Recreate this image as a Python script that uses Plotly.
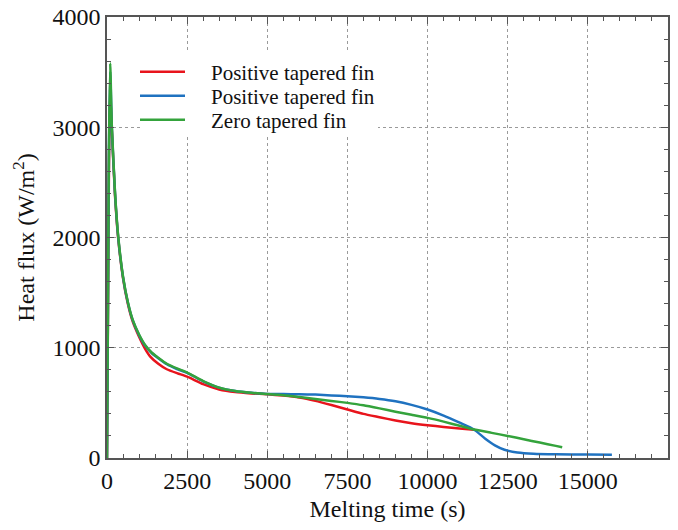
import plotly.graph_objects as go

# ---- data ----
t_red = [0, 30, 60, 95, 150, 250, 350, 500, 650, 800, 1000, 1180, 1350, 1600, 1865, 2200, 2500,
         3000, 3500, 4000, 4500, 5000, 5500, 6000, 6500, 7000, 7500, 8000, 8500, 9000, 9500,
         10000, 10500, 11000, 11450]
q_red = [0, 1300, 2600, 3340, 2980, 2380, 1990, 1630, 1400, 1240, 1100, 995, 920, 855, 805, 768, 738,
         670, 622, 598, 586, 578, 566, 548, 518, 480, 440, 400, 370, 340, 315,
         297, 282, 268, 256]

t_blue = [0, 30, 60, 100, 150, 250, 350, 500, 650, 800, 1000, 1200, 1400, 1600, 1865, 2200, 2500,
          3000, 3500, 4000, 4500, 5000, 5500, 6000, 6500, 7000, 7500, 8000, 8500, 9000, 9500,
          10000, 10500, 11000, 11450, 11800, 12100, 12400, 12800, 13300, 14000, 15000, 15750]
q_blue = [0, 1350, 2750, 3505, 3000, 2400, 2000, 1640, 1410, 1250, 1115, 1015, 950, 905, 850, 805, 772,
          696, 638, 607, 591, 581, 580, 578, 575, 568, 560, 550, 536, 515, 482,
          440, 385, 320, 258, 175, 115, 75, 50, 38, 33, 31, 30]

t_green = [0, 30, 60, 100, 150, 250, 350, 500, 650, 800, 1000, 1200, 1400, 1600, 1865, 2200, 2500,
           3000, 3500, 4000, 4500, 5000, 5500, 6000, 6500, 7000, 7500, 8000, 8500, 9000, 9500,
           10000, 10500, 11000, 11450, 12000, 12500, 13000, 13500, 14000, 14200]
q_green = [0, 1400, 2800, 3580, 3020, 2410, 2010, 1645, 1415, 1255, 1120, 1020, 955, 910, 855, 810, 775,
           698, 638, 607, 591, 581, 570, 553, 535, 518, 500, 478, 450, 420, 392,
           364, 330, 292, 258, 228, 200, 170, 140, 110, 98]

series_names = ["Positive tapered fin", "Positive tapered fin", "Zero tapered fin"]
x_ticks = [0, 2500, 5000, 7500, 10000, 12500, 15000]
y_ticks = [0, 1000, 2000, 3000, 4000]
x_range = [0, 17500]
y_range = [0, 4000]

colors = ["#e8141c", "#1f72c0", "#34a33c"]
legend_ids = ["legend", "legend2", "legend3"]

fig = go.Figure()
for (tx, qy, name, c, lg) in [(t_red, q_red, series_names[0], colors[0], legend_ids[0]),
                              (t_blue, q_blue, series_names[1], colors[1], legend_ids[1]),
                              (t_green, q_green, series_names[2], colors[2], legend_ids[2])]:
    fig.add_trace(go.Scatter(x=tx, y=qy, mode="lines", legend=lg,
                             name="\u00a0\u00a0\u00a0\u00a0" + name,
                             line=dict(color=c, width=2.5, shape="spline", smoothing=0.5)))

font_family = "Liberation Serif"
axis_common = dict(
    showline=True, linecolor="#555555", linewidth=1.5, mirror="allticks",
    ticks="inside", ticklen=7, tickwidth=1.2, tickcolor="#555555",
    showgrid=True, gridcolor="#9a9a9a", griddash="dot", gridwidth=1,
    zeroline=False, automargin=False,
    tickfont=dict(family=font_family, size=24, color="#111111"),
    title_font=dict(family=font_family, size=24, color="#111111"),
    minor=dict(ticks="inside", ticklen=4, tickwidth=1, tickcolor="#555555", showgrid=False),
)

fig.update_xaxes(**axis_common)
fig.update_xaxes(range=x_range, tickmode="array", tickvals=x_ticks,
                 ticktext=[str(v) for v in x_ticks], minor_dtick=500,
                 title_text="Melting time (s)", title_standoff=8)
fig.update_yaxes(**axis_common)
fig.update_yaxes(range=y_range, tickmode="array", tickvals=y_ticks,
                 ticktext=[str(v) for v in y_ticks], minor_dtick=200,
                 title_text="Heat flux (W/m<sup>2</sup>)", title_standoff=11)

plot_left, plot_right, plot_top, plot_bottom = 107, 668, 17, 458
pw, ph = plot_right - plot_left, plot_bottom - plot_top

legend_common = dict(x=(135 - plot_left) / pw, xanchor="left", yanchor="middle",
                     bgcolor="rgba(0,0,0,0)", borderwidth=0,
                     font=dict(family=font_family, size=21, color="#111111"),
                     itemwidth=45)
legend_rows_px = [72, 96, 120]
legends = {}
for lg, py in zip(legend_ids, legend_rows_px):
    legends[lg] = dict(legend_common, y=(plot_bottom - py) / ph)

# white panel behind the legend (hides grid lines there, as in the reference)
def px_to_x(px):
    return x_range[0] + (px - plot_left) / pw * (x_range[1] - x_range[0])

def px_to_y(py):
    return y_range[0] + (plot_bottom - py) / ph * (y_range[1] - y_range[0])

fig.add_shape(type="rect", xref="x", yref="y", layer="above",
              x0=px_to_x(140), x1=px_to_x(378), y0=px_to_y(135), y1=px_to_y(50),
              fillcolor="white", opacity=1, line=dict(width=0))

fig.update_layout(
    width=678, height=530,
    margin=dict(l=plot_left, r=678 - plot_right, t=plot_top, b=530 - plot_bottom),
    plot_bgcolor="white", paper_bgcolor="white",
    font=dict(family=font_family, color="#111111"),
    showlegend=True,
    **legends,
)

fig.write_html("out.html", config={"displayModeBar": False},
               post_script="document.body.style.margin='0px';")
